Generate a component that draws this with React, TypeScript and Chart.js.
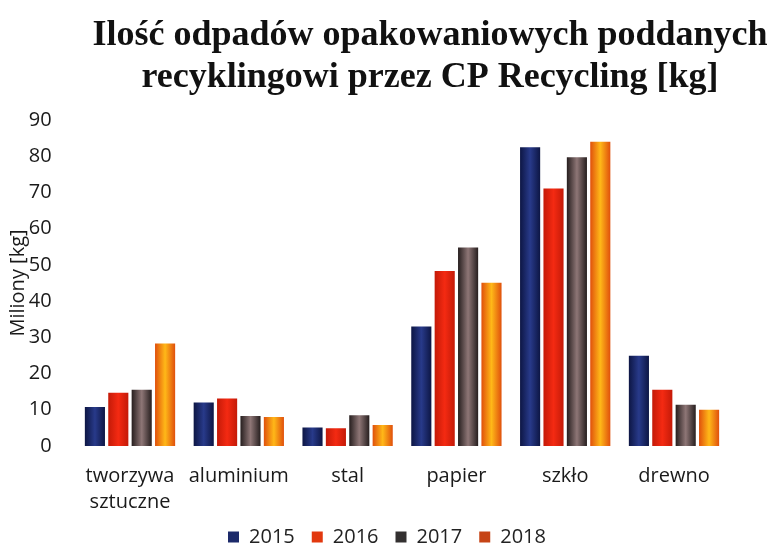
import React, { useEffect, useRef } from 'react';
import { Chart, registerables } from 'chart.js';

Chart.register(...registerables);

const titleLines = ['Ilość odpadów opakowaniowych poddanych', 'recyklingowi przez CP Recycling [kg]'];
const categories: (string | string[])[] = [['tworzywa', 'sztuczne'], 'aluminium', 'stal', 'papier', 'szkło', 'drewno'];
const seriesNames = ['2015', '2016', '2017', '2018'];
const values2015 = [10.8, 12.0, 5.1, 33.0, 82.5, 24.9];
const values2016 = [14.7, 13.1, 4.9, 48.3, 71.1, 15.5];
const values2017 = [15.5, 8.3, 8.5, 54.8, 79.7, 11.4];
const values2018 = [28.3, 8.0, 5.8, 45.1, 84.0, 10.0];
const yTicks = [0, 10, 20, 30, 40, 50, 60, 70, 80, 90];
const yTitle = 'Miliony [kg]';

const gradientStops = [
  ['#0d1644', '#283a8a', '#0d1644'],
  ['#c41a08', '#f42a12', '#c41a08'],
  ['#261e1e', '#8e7676', '#261e1e'],
  ['#e0500c', '#ffb818', '#e0500c'],
];
const legendColors = ['#1c2a6a', '#e2380e', '#333030', '#c64416'];

const CAT_PCT = 0.86;
const BAR_PCT = 0.86;

function barFill(c: any) {
  const chart = c.chart;
  const stops = gradientStops[c.datasetIndex];
  const xs = chart.scales && chart.scales.x;
  if (!xs || c.type !== 'data' || !chart.chartArea) return stops[1];
  const n = chart.data.datasets.length;
  const catW = (xs.width / categories.length) * CAT_PCT;
  const slot = catW / n;
  const bw = slot * BAR_PCT;
  const center = xs.getPixelForValue(c.dataIndex);
  const cx = center - catW / 2 + slot * (c.datasetIndex + 0.5);
  const g = chart.ctx.createLinearGradient(cx - bw / 2, 0, cx + bw / 2, 0);
  g.addColorStop(0, stops[0]);
  g.addColorStop(0.5, stops[1]);
  g.addColorStop(1, stops[2]);
  return g;
}

const titlePlugin = {
  id: 'customTitle',
  afterDraw(chart: any) {
    const ctx = chart.ctx;
    ctx.save();
    ctx.font = 'bold 36px "Liberation Serif", "Times New Roman", serif';
    ctx.fillStyle = '#111111';
    ctx.textAlign = 'center';
    ctx.textBaseline = 'alphabetic';
    ctx.fillText(titleLines[0], 430, 45);
    ctx.fillText(titleLines[1], 430, 87);
    ctx.restore();
  },
};

export default function App() {
  const ref = useRef<HTMLCanvasElement>(null);
  useEffect(() => {
    if (!ref.current) return;
    const all = [values2015, values2016, values2017, values2018];
    const chart = new Chart(ref.current, {
      type: 'bar',
      data: {
        labels: categories,
        datasets: seriesNames.map((name, i) => ({
          label: name,
          data: all[i],
          backgroundColor: barFill,
          borderWidth: 0,
          categoryPercentage: CAT_PCT,
          barPercentage: BAR_PCT,
        })),
      },
      options: {
        responsive: false,
        animation: false,
        layout: { padding: { top: 120, left: 2, right: 0, bottom: 0 } },
        plugins: {
          title: { display: false },
          tooltip: { enabled: false },
          legend: {
            position: 'bottom',
            labels: {
              boxWidth: 11,
              boxHeight: 11,
              padding: 17,
              color: '#222222',
              font: { family: '"Open Sans", sans-serif', size: 20 },
              generateLabels: (ch: any) => {
                const items = Chart.defaults.plugins.legend.labels.generateLabels(ch);
                return items.map((it: any, i: number) => ({
                  ...it,
                  fillStyle: legendColors[i],
                  strokeStyle: legendColors[i],
                  lineWidth: 0,
                }));
              },
            },
          },
        },
        scales: {
          x: {
            grid: { display: false, drawTicks: false },
            border: { display: false },
            ticks: {
              color: '#1a1a1a',
              padding: 17,
              maxRotation: 0,
              autoSkip: false,
              font: { family: '"Open Sans", sans-serif', size: 20, lineHeight: 1.3 },
            },
            afterFit: (s: any) => { s.height = 64; },
          },
          y: {
            min: 0,
            max: 90,
            grid: { display: false, drawTicks: false },
            border: { display: false },
            afterBuildTicks: (s: any) => { s.ticks = yTicks.map((v) => ({ value: v })); },
            ticks: {
              color: '#1a1a1a',
              padding: 24,
              font: { family: '"Open Sans", sans-serif', size: 20 },
            },
            title: {
              display: true,
              text: yTitle,
              color: '#1a1a1a',
              font: { family: '"Open Sans", sans-serif', size: 20 },
            },
            afterFit: (s: any) => { s.width = 73.6; },
          },
          yRight: {
            type: 'linear',
            position: 'right',
            display: true,
            grid: { display: false, drawTicks: false },
            border: { display: false },
            ticks: { display: false },
            afterFit: (s: any) => { s.width = 43.6; },
          },
        },
      },
      plugins: [titlePlugin],
    });
    return () => chart.destroy();
  }, []);
  return (
    <div style={{ position: 'absolute', left: 0, top: 0, width: 772, height: 557, background: '#ffffff' }}>
      <canvas ref={ref} width={772} height={557} style={{ display: 'block' }} />
    </div>
  );
}
